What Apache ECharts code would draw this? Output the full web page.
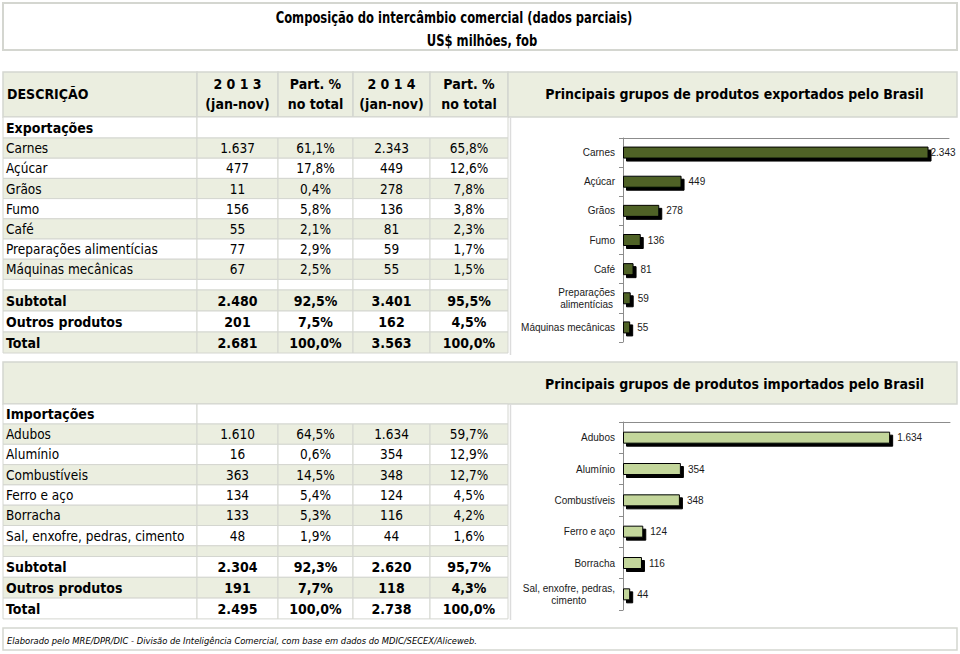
<!DOCTYPE html>
<html><head><meta charset="utf-8">
<script src="https://cdn.jsdelivr.net/npm/echarts@6/dist/echarts.min.js"></script>
<style>html,body{margin:0;padding:0;background:#fff}#main{width:960px;height:654px}</style>
</head><body><div id="main"></div>
<script>
// ---------- DATA ----------
const titleLines = ['Composição do intercâmbio comercial (dados parciais)', 'US$ milhões, fob'];
const headerCols = [['2 0 1 3', '(jan-nov)'], ['Part. %', 'no total'], ['2 0 1 4', '(jan-nov)'], ['Part. %', 'no total']];
const exportTitle = 'Principais grupos de produtos exportados pelo Brasil';
const importTitle = 'Principais grupos de produtos importados pelo Brasil';
const footnote = 'Elaborado pelo MRE/DPR/DIC - Divisão de Inteligência Comercial, com base em dados do MDIC/SECEX/Aliceweb.';

const exportCategories = ['Carnes', 'Açúcar', 'Grãos', 'Fumo', 'Café', 'Preparações alimentícias', 'Máquinas mecânicas'];
const exportChartLabels = ['Carnes', 'Açúcar', 'Grãos', 'Fumo', 'Café', 'Preparações\nalimentícias', 'Máquinas mecânicas'];
const export2013 = [1637, 477, 11, 156, 55, 77, 67];
const exportShare2013 = [61.1, 17.8, 0.4, 5.8, 2.1, 2.9, 2.5];
const export2014 = [2343, 449, 278, 136, 81, 59, 55];
const exportShare2014 = [65.8, 12.6, 7.8, 3.8, 2.3, 1.7, 1.5];

const summaryLabels = ['Subtotal', 'Outros produtos', 'Total'];
const exportSum2013 = [2480, 201, 2681];
const exportSumShare2013 = [92.5, 7.5, 100.0];
const exportSum2014 = [3401, 162, 3563];
const exportSumShare2014 = [95.5, 4.5, 100.0];

const importCategories = ['Adubos', 'Alumínio', 'Combustíveis', 'Ferro e aço', 'Borracha', 'Sal, enxofre, pedras, cimento'];
const importChartLabels = ['Adubos', 'Alumínio', 'Combustíveis', 'Ferro e aço', 'Borracha', 'Sal, enxofre, pedras,\ncimento'];
const import2013 = [1610, 16, 363, 134, 133, 48];
const importShare2013 = [64.5, 0.6, 14.5, 5.4, 5.3, 1.9];
const import2014 = [1634, 354, 348, 124, 116, 44];
const importShare2014 = [59.7, 12.9, 12.7, 4.5, 4.2, 1.6];

const importSum2013 = [2304, 191, 2495];
const importSumShare2013 = [92.3, 7.7, 100.0];
const importSum2014 = [2620, 118, 2738];
const importSumShare2014 = [95.7, 4.3, 100.0];

// ---------- HELPERS ----------
const FT = '"DejaVu Sans Condensed","DejaVu Sans",sans-serif';
const FT_CHART = '"Liberation Sans",Arial,sans-serif';
const BEIGE = '#ebeee0';
const LINE = '#d4d6d0';
const fmtInt = n => String(n).replace(/\B(?=(\d{3})+(?!\d))/g, '.');
const fmtPct = p => p.toFixed(1).replace('.', ',') + '%';

const G = [];
function rect(x, y, w, h, fill, stroke, lw) {
  G.push({type: 'rect', silent: true, shape: {x, y, width: w, height: h},
    style: {fill: fill || 'none', stroke: stroke || null, lineWidth: lw || 1}});
}
function line(x1, y1, x2, y2, stroke, lw) {
  G.push({type: 'line', silent: true, shape: {x1, y1, x2, y2}, style: {stroke, lineWidth: lw || 1}});
}
function txt(x, y, s, o) {
  o = o || {};
  G.push({type: 'text', silent: true, x, y, scaleX: o.scaleX || 1, style: {
    text: s, x: 0, y: 0, fill: o.color || '#000',
    font: (o.italic ? 'italic ' : '') + (o.bold ? 'bold ' : '') + (o.size || 13) + 'px ' + (o.family || FT),
    align: o.align || 'left', verticalAlign: 'middle', textAlign: o.align || 'left', textVerticalAlign: 'middle'}});
}

const C = [3, 197, 278, 353, 430, 508];
const RIGHT = 957;
const colCenter = i => (C[i] + C[i + 1]) / 2;

function dataRow(y, h, fill, name, vals, bold) {
  for (let c = 0; c < 5; c++) rect(C[c], y, C[c + 1] - C[c], h, fill, LINE, 1);
  if (name !== null) {
    txt(6, y + h / 2, name, {bold, size: bold ? 14 : 13.5});
    vals.forEach((v, k) => txt(colCenter(k + 1), y + h / 2, v, {bold, size: bold ? 14 : 13.5, align: 'center'}));
  }
}

// Title box
rect(3, 3, RIGHT - 3, 47, '#fff', LINE, 2);
txt(454, 17, titleLines[0], {bold: true, size: 16.5, align: 'center', scaleX: 0.78});
txt(482, 40, titleLines[1], {bold: true, size: 16.5, align: 'center', scaleX: 0.78});

// Header row
for (let c = 0; c < 5; c++) rect(C[c], 72, C[c + 1] - C[c], 45, BEIGE, LINE, 1.5);
rect(C[5], 72, RIGHT - C[5], 45, BEIGE, LINE, 1.5);
txt(7, 94, 'DESCRIÇÃO', {bold: true, size: 14});
headerCols.forEach((hc, k) => {
  txt(colCenter(k + 1), 84, hc[0], {bold: true, size: 14, align: 'center'});
  txt(colCenter(k + 1), 104, hc[1], {bold: true, size: 14, align: 'center'});
});
txt((C[5] + RIGHT) / 2 + 2, 94, exportTitle, {bold: true, size: 14, align: 'center'});

// Exports section
rect(C[0], 117, C[1] - C[0], 21, '#fff', LINE, 1);
rect(C[1], 117, C[5] - C[1], 21, '#fff', LINE, 1);
txt(6, 128, 'Exportações', {bold: true, size: 14});
{
  let y = 138, idx = 0;
  exportCategories.forEach((n, i) => {
    dataRow(y, 20.2, idx % 2 === 0 ? BEIGE : '#fff', n,
      [fmtInt(export2013[i]), fmtPct(exportShare2013[i]), fmtInt(export2014[i]), fmtPct(exportShare2014[i])], false);
    y += 20.2; idx++;
  });
  dataRow(y, 290 - y, idx % 2 === 0 ? BEIGE : '#fff', null, [], false); idx++; y = 290;
  summaryLabels.forEach((n, i) => {
    dataRow(y, 21, idx % 2 === 0 ? BEIGE : '#fff', n,
      [fmtInt(exportSum2013[i]), fmtPct(exportSumShare2013[i]), fmtInt(exportSum2014[i]), fmtPct(exportSumShare2014[i])], true);
    y += 21; idx++;
  });
}
line(510.5, 117, 510.5, 355, '#dcdcdc', 1.5);

// Imports band
rect(3, 362, RIGHT - 3, 42, BEIGE, LINE, 1.5);
txt((C[5] + RIGHT) / 2 + 2, 384, importTitle, {bold: true, size: 14, align: 'center'});
rect(C[0], 404, C[1] - C[0], 20, '#fff', LINE, 1);
rect(C[1], 404, C[5] - C[1], 20, '#fff', LINE, 1);
txt(6, 414, 'Importações', {bold: true, size: 14});
{
  let y = 424, idx = 0;
  importCategories.forEach((n, i) => {
    dataRow(y, 20.3, idx % 2 === 0 ? BEIGE : '#fff', n,
      [fmtInt(import2013[i]), fmtPct(importShare2013[i]), fmtInt(import2014[i]), fmtPct(importShare2014[i])], false);
    y += 20.3; idx++;
  });
  dataRow(y, 556.5 - y, idx % 2 === 0 ? BEIGE : '#fff', null, [], false); idx++; y = 556.5;
  summaryLabels.forEach((n, i) => {
    dataRow(y, 20.8, idx % 2 === 0 ? BEIGE : '#fff', n,
      [fmtInt(importSum2013[i]), fmtPct(importSumShare2013[i]), fmtInt(importSum2014[i]), fmtPct(importSumShare2014[i])], true);
    y += 20.8; idx++;
  });
}
line(510.5, 404, 510.5, 620, '#dcdcdc', 1.5);

// Footer
rect(3, 628, RIGHT - 3, 22, '#fff', LINE, 1.5);
txt(7, 640, footnote, {italic: true, size: 9.3});

// ---------- CHARTS ----------
const catFormatter = v => v.indexOf('\n') < 0 ? v : v.split('\n').map(l => '{c|' + l + '}').join('\n');
const axisGray = '#8c8c8c';
function yAx(gi, labels) {
  return {gridIndex: gi, type: 'category', inverse: true, data: labels,
    axisLine: {show: true, lineStyle: {color: axisGray, width: 1}},
    axisTick: {show: true, length: 4, lineStyle: {color: axisGray}},
    axisLabel: {fontSize: 10, fontFamily: FT_CHART, color: '#1a1a1a', margin: 8, lineHeight: 12,
      formatter: catFormatter,
      rich: {c: {align: 'center', fontSize: 10, fontFamily: FT_CHART, color: '#1a1a1a', lineHeight: 12}}}};
}
function xAx(gi, max) {
  return {gridIndex: gi, type: 'value', position: 'top', min: 0, max,
    axisLine: {show: true, lineStyle: {color: axisGray, width: 1}},
    axisTick: {show: false}, axisLabel: {show: false}, splitLine: {show: false}};
}
function barSeries(gi, values, color) {
  const mx = Math.max(...values);
  return {type: 'bar', xAxisIndex: gi, yAxisIndex: gi, barWidth: 12,
    data: values.map(v => v === mx && gi === 0 ? {value: v, label: {distance: 2}} : v),
    itemStyle: {color, borderColor: '#000', borderWidth: 1,
      shadowColor: '#000', shadowOffsetX: 3, shadowOffsetY: 3, shadowBlur: 0},
    label: {show: true, position: 'right', distance: 7, fontSize: 10, fontFamily: FT_CHART, color: '#1a1a1a',
      formatter: p => fmtInt(p.value)},
    silent: true, animation: false};
}

const chart = echarts.init(document.getElementById('main'), null, {renderer: 'svg'});
chart.setOption({
  animation: false,
  backgroundColor: '#fff',
  grid: [
    {left: 623, top: 138, width: 326, height: 204},
    {left: 623, top: 422, width: 327, height: 188}
  ],
  xAxis: [xAx(0, 2500), xAx(1, 2000)],
  yAxis: [yAx(0, exportChartLabels), yAx(1, importChartLabels)],
  series: [barSeries(0, export2014, '#4f6228'), barSeries(1, import2014, '#c3d69b')],
  graphic: G
});
</script>
</body></html>
